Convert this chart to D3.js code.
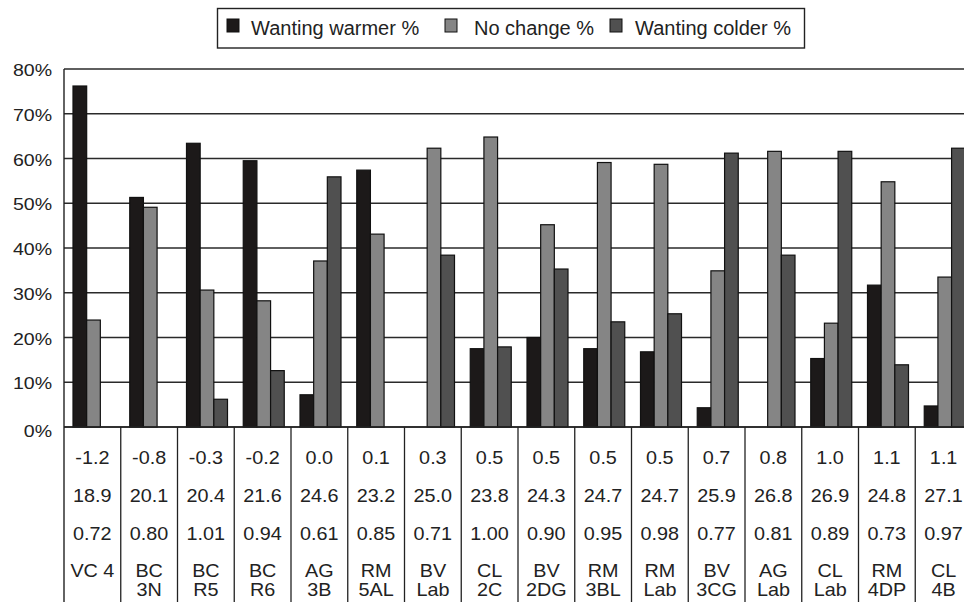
<!DOCTYPE html>
<html><head><meta charset="utf-8">
<script src="https://cdn.jsdelivr.net/npm/d3@7"></script>
<style>html,body{margin:0;padding:0;background:#fff;}svg{display:block;}</style>
</head><body>
<script>
const categories = ["VC 4","BC 3N","BC R5","BC R6","AG 3B","RM 5AL","BV Lab","CL 2C","BV 2DG","RM 3BL","RM Lab","BV 3CG","AG Lab","CL Lab","RM 4DP","CL 4B"];
const labelLine1 = ["VC 4","BC","BC","BC","AG","RM","BV","CL","BV","RM","RM","BV","AG","CL","RM","CL"];
const labelLine2 = ["","3N","R5","R6","3B","5AL","Lab","2C","2DG","3BL","Lab","3CG","Lab","Lab","4DP","4B"];
const seriesNames = ["Wanting warmer %","No change %","Wanting colder %"];
const warmer   = [76.2, 51.3, 63.4, 59.5, 7.2, 57.4, 0, 17.5, 20.0, 17.5, 16.8, 4.3, 0, 15.3, 31.7, 4.7];
const noChange = [23.9, 49.1, 30.6, 28.2, 37.1, 43.1, 62.3, 64.8, 45.2, 59.1, 58.7, 34.9, 61.6, 23.2, 54.8, 33.5];
const colder   = [0, 0, 6.2, 12.6, 55.9, 0, 38.4, 17.9, 35.3, 23.5, 25.3, 61.2, 38.4, 61.6, 13.9, 62.3];
const row1 = ["-1.2","-0.8","-0.3","-0.2","0.0","0.1","0.3","0.5","0.5","0.5","0.5","0.7","0.8","1.0","1.1","1.1"];
const row2 = ["18.9","20.1","20.4","21.6","24.6","23.2","25.0","23.8","24.3","24.7","24.7","25.9","26.8","26.9","24.8","27.1"];
const row3 = ["0.72","0.80","1.01","0.94","0.61","0.85","0.71","1.00","0.90","0.95","0.98","0.77","0.81","0.89","0.73","0.97"];
const yTicks = [0,10,20,30,40,50,60,70,80];

const W = 964, H = 602;
const svg = d3.select("body").append("svg").attr("width", W).attr("height", H);
const font = "'Liberation Sans', Arial, sans-serif";
const fills = ["#1c1919", "#858585", "#505050"];

const left = 64, band = 56.75;
const x = d3.scaleBand().domain(categories).range([left, left + band * categories.length]).padding(0);
const xi = d3.scaleBand().domain(seriesNames).range([9, 50]).padding(0);
const y = d3.scaleLinear().domain([0, 80]).range([427, 69]);

const series = [warmer, noChange, colder];

// gridlines
svg.append("g").selectAll("line").data(yTicks).join("line")
  .attr("x1", left).attr("x2", W).attr("y1", d => y(d)).attr("y2", d => y(d))
  .attr("stroke", "#2a2a2a").attr("stroke-width", d => d === 0 ? 1.6 : 1.4);

// y labels
svg.append("g").selectAll("text").data(yTicks).join("text")
  .attr("transform", d => `translate(52,${y(d) + 7 + (d===0?3:0)}) scale(1.15,1)`)
  .attr("text-anchor", "end").attr("font-family", font).attr("font-size", 17).attr("fill", "#222")
  .text(d => d + "%");

// bars
const g = svg.append("g");
categories.forEach((c, i) => {
  series.forEach((s, k) => {
    const v = s[i];
    if (!v) return;
    g.append("rect")
      .attr("x", x(c) + xi(seriesNames[k]))
      .attr("y", y(v))
      .attr("width", xi.bandwidth())
      .attr("height", y(0) - y(v))
      .attr("fill", fills[k]).attr("stroke", "#111").attr("stroke-width", 1.2);
  });
});

// axis line at 0 and left line
svg.append("line").attr("x1", left).attr("x2", W).attr("y1", y(0)).attr("y2", y(0)).attr("stroke", "#222").attr("stroke-width", 1.6);
svg.append("line").attr("x1", left).attr("x2", left).attr("y1", y(80)).attr("y2", H).attr("stroke", "#222").attr("stroke-width", 1.4);

// table dividers
svg.append("g").selectAll("line").data(categories.slice(1)).join("line")
  .attr("x1", d => x(d)).attr("x2", d => x(d)).attr("y1", y(0)).attr("y2", H)
  .attr("stroke", "#222").attr("stroke-width", 1.3);

// table text
const rows = [[row1, 464], [row2, 502], [row3, 540], [labelLine1, 577], [labelLine2, 596]];
rows.forEach(([arr, yy]) => {
  svg.append("g").selectAll("text").data(categories).join("text")
    .attr("transform", (d, i) => `translate(${x(d) + band / 2},${yy}) scale(1.1,1)`)
    .attr("text-anchor", "middle").attr("font-family", font).attr("font-size", 18).attr("fill", "#222")
    .text((d, i) => arr[i]);
});

// legend
const lg = svg.append("g");
lg.append("rect").attr("x", 217.5).attr("y", 8.5).attr("width", 587).attr("height", 39.5)
  .attr("fill", "#fff").attr("stroke", "#222").attr("stroke-width", 1.4);
const legX = [227, 445, 610];
const legT = [251, 474, 635];
seriesNames.forEach((n, k) => {
  lg.append("rect").attr("x", legX[k]).attr("y", 19).attr("width", 12).attr("height", 13)
    .attr("fill", fills[k]).attr("stroke", "#111").attr("stroke-width", 1);
  lg.append("text").attr("x", legT[k]).attr("y", 35)
    .attr("font-family", font).attr("font-size", 20).attr("fill", "#222").text(n);
});
</script>
</body></html>
